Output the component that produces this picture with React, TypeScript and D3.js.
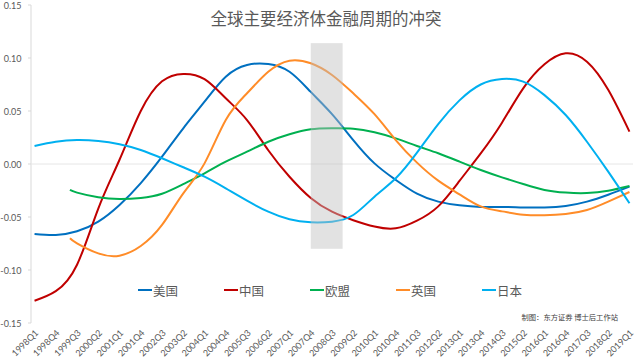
import React from 'react';
import * as d3 from 'd3';

const sampleQuarters = [
  '1998Q1', '1998Q4', '1999Q2', '1999Q3', '2000Q2', '2001Q1', '2001Q4', '2002Q3', '2003Q2', '2004Q1',
  '2004Q4', '2005Q3', '2006Q2', '2007Q1', '2007Q4', '2008Q3', '2009Q2', '2010Q1', '2010Q4', '2011Q3',
  '2012Q2', '2013Q1', '2013Q4', '2014Q3', '2015Q2', '2016Q1', '2016Q4', '2017Q3', '2018Q2', '2019Q1',
];

const usValues = [
  -0.066, -0.067, null, -0.0635, -0.0544, -0.0387, -0.018, 0.0069, 0.0337, 0.0588,
  0.0824, 0.0934, 0.0943, 0.087, 0.068, 0.047, 0.0226, 0.0006, -0.015, -0.028,
  -0.0355, -0.039, -0.0405, -0.0405, -0.041, -0.041, -0.0396, -0.0355, -0.029, -0.0214,
];
const chinaValues = [
  -0.129, -0.12, null, -0.095, -0.042, 0.004, 0.05, 0.078, 0.085, 0.08,
  0.062, 0.0415, 0.013, -0.012, -0.032, -0.045, -0.053, -0.059, -0.0607, -0.0535,
  -0.04, -0.016, 0.01, 0.039, 0.0714, 0.094, 0.1044, 0.0965, 0.07, 0.0305,
];
const euValues = [
  null, null, -0.0245, -0.027, -0.0314, -0.033, -0.032, -0.028, -0.019, -0.0088,
  0.0022, 0.0116, 0.021, 0.028, 0.0327, 0.0337, 0.0333, 0.0299, 0.0242, 0.017,
  0.0101, 0.0022, -0.0057, -0.0126, -0.0189, -0.0245, -0.027, -0.0274, -0.0252, -0.0208,
];
const ukValues = [
  null, null, -0.07, -0.0748, -0.0843, -0.0865, -0.0774, -0.0575, -0.0277, 0.0006,
  0.0415, 0.0667, 0.087, 0.0975, 0.095, 0.084, 0.0667, 0.047, 0.0226, 0.0013,
  -0.0157, -0.0286, -0.04, -0.0447, -0.0478, -0.0484, -0.0472, -0.0434, -0.0355, -0.0264,
];
const japanValues = [
  0.017, 0.021, null, 0.0226, 0.0217, 0.0186, 0.0132, 0.0054, -0.0031, -0.012,
  -0.023, -0.0346, -0.045, -0.0522, -0.055, -0.0544, -0.0481, -0.0308, -0.0135, 0.0107,
  0.0377, 0.06, 0.075, 0.0802, 0.0777, 0.065, 0.0462, 0.021, -0.0072, -0.037,
];

const seriesNames = ['美国', '中国', '欧盟', '英国', '日本'];
const seriesColors = ['#0070C0', '#C00000', '#00B050', '#FF8C28', '#00B0F0'];
const seriesValues = [usValues, chinaValues, euValues, ukValues, japanValues];

const yTicks = [0.15, 0.1, 0.05, 0, -0.05, -0.1, -0.15];
const xTickLabels = [
  '1998Q1', '1998Q4', '1999Q3', '2000Q2', '2001Q1', '2001Q4', '2002Q3', '2003Q2', '2004Q1', '2004Q4',
  '2005Q3', '2006Q2', '2007Q1', '2007Q4', '2008Q3', '2009Q2', '2010Q1', '2010Q4', '2011Q3', '2012Q2',
  '2013Q1', '2013Q4', '2014Q3', '2015Q2', '2016Q1', '2016Q4', '2017Q3', '2018Q2', '2019Q1',
];

// shaded crisis window
const shadeQuarters = ['2007Q4', '2008Q4'];
const shadeValues = [-0.08, 0.114];

const allQuarters: string[] = [];
for (let yr = 1998; yr <= 2019; yr++) {
  for (let q = 1; q <= 4; q++) {
    if (yr === 2019 && q > 1) break;
    allQuarters.push(`${yr}Q${q}`);
  }
}

const W = 641;
const H = 360;
const font = "Lato, 'Noto Sans CJK SC', sans-serif";
const cjk = "'Noto Sans CJK SC', sans-serif";

const App: React.FC = () => {
  const x = d3.scaleBand().domain(allQuarters).range([31, 633]);
  const cx = (q: string) => (x(q) as number) + x.bandwidth() / 2;
  const y = d3.scaleLinear().domain([-0.15, 0.15]).range([323, 5]);

  const line = d3.line<[string, number]>()
    .x(d => cx(d[0]))
    .y(d => y(d[1]))
    .curve(d3.curveNatural);

  return (
    <svg width={W} height={H} style={{ position: 'absolute', left: 0, top: 0, background: '#fff' }}>
      <text x={326} y={17.5} textAnchor="middle" dominantBaseline="central"
        fontFamily={cjk} fontSize={16.5} fill="#595959">全球主要经济体金融周期的冲突</text>

      {/* y axis */}
      <line x1={31} x2={31} y1={y(0.15)} y2={y(-0.15)} stroke="#d9d9d9" />
      {yTicks.map(t => (
        <g key={t}>
          <line x1={28} x2={31} y1={y(t)} y2={y(t)} stroke="#d9d9d9" />
          <text x={21.5} y={y(t)} textAnchor="end" dominantBaseline="central"
            fontFamily={font} fontSize={9} fill="#595959">{t.toFixed(2)}</text>
        </g>
      ))}

      {/* category axis through zero */}
      <line x1={31} x2={633} y1={y(0)} y2={y(0)} stroke="#e6e6e6" />
      {xTickLabels.map(q => (
        <text key={q} transform={`translate(${cx(q) + 2},${331}) rotate(-45)`}
          textAnchor="end" dominantBaseline="central"
          fontFamily={font} fontSize={9} fill="#595959">{q}</text>
      ))}

      {seriesValues.map((vals, i) => {
        const pts = sampleQuarters
          .map((q, j) => [q, vals[j]] as [string, number | null])
          .filter(d => d[1] !== null) as [string, number][];
        return (
          <path key={seriesNames[i]} d={line(pts) || ''} fill="none"
            stroke={seriesColors[i]} strokeWidth={2} />
        );
      })}

      <rect x={cx(shadeQuarters[0])} y={y(shadeValues[1])}
        width={cx(shadeQuarters[1]) - cx(shadeQuarters[0]) + x.bandwidth() / 2}
        height={y(shadeValues[0]) - y(shadeValues[1])}
        fill="#bfbfbf" opacity={0.45} />

      {/* legend */}
      {seriesNames.map((name, i) => (
        <g key={name} transform={`translate(${138 + i * 86},${290})`}>
          <line x1={0} x2={14} y1={0} y2={0} stroke={seriesColors[i]} strokeWidth={2} />
          <text x={15} y={0} dominantBaseline="central" fontFamily={cjk} fontSize={12.5} fill="#595959">{name}</text>
        </g>
      ))}

      <text x={618} y={317} textAnchor="end" dominantBaseline="central"
        fontFamily={cjk} fontSize={7.3} fill="#404040">制图：东方证券 博士后工作站</text>
    </svg>
  );
};

export default App;
